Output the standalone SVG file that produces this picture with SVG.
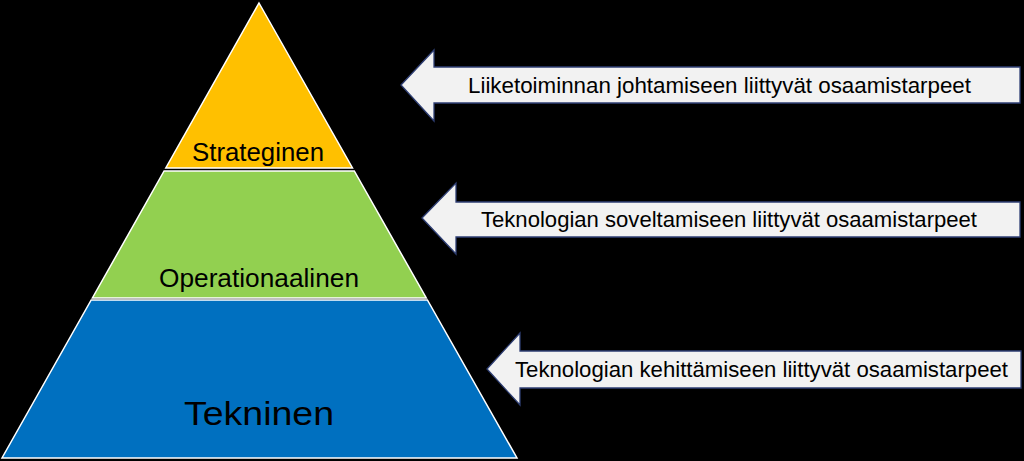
<svg xmlns="http://www.w3.org/2000/svg" width="1024" height="461" viewBox="0 0 1024 461">
<style>
.layer{stroke:#FFFFFF;stroke-width:1.5;stroke-linejoin:miter}
.lbl{font-family:"Liberation Sans",Arial,sans-serif;fill:#000000;text-anchor:start}
.arrow{fill:#F2F2F2;stroke:#2F3F74;stroke-width:1.3;stroke-linejoin:miter}
.atext{font-family:"Liberation Sans",Arial,sans-serif;font-size:22px;fill:#000000}
</style>
<rect x="0" y="0" width="1024" height="461" fill="#000000"/>
<g id="strateginen">
<polygon class="layer" fill="#FFC000" points="259,3 352.5,168 165.8,168"/>
<text class="lbl" x="192" y="161" font-size="26" textLength="132" lengthAdjust="spacingAndGlyphs">Strateginen</text>
</g>
<g id="operationaalinen">
<polygon class="layer" fill="#92D050" points="164.1,171 354.3,171 426.3,298 92.4,298"/>
<text class="lbl" x="159" y="287" font-size="26" textLength="200" lengthAdjust="spacingAndGlyphs">Operationaalinen</text>
</g>
<g id="tekninen">
<polygon class="layer" fill="#0070C0" points="91.2,300 427.4,300 517,458 2,458"/>
<text class="lbl" x="184" y="425" font-size="34" textLength="150" lengthAdjust="spacingAndGlyphs">Tekninen</text>
</g>
<g id="connectors">
<g id="arrow-liiketoiminta">
<polygon class="arrow" points="401,85 434,50 434,67 1020,67 1020,103 434,103 434,121"/>
<text class="atext" x="468" y="93" textLength="503" lengthAdjust="spacingAndGlyphs">Liiketoiminnan johtamiseen liittyvät osaamistarpeet</text>
</g>
<g id="arrow-soveltaminen">
<polygon class="arrow" points="422,218 456,183 456,202 1020,202 1020,237 456,237 456,254"/>
<text class="atext" x="481" y="227" textLength="496" lengthAdjust="spacingAndGlyphs">Teknologian soveltamiseen liittyvät osaamistarpeet</text>
</g>
<g id="arrow-kehittaminen">
<polygon class="arrow" points="487,369 520,333 520,351 1021,351 1021,388 520,388 520,405"/>
<text class="atext" x="515" y="377" textLength="493" lengthAdjust="spacingAndGlyphs">Teknologian kehittämiseen liittyvät osaamistarpeet</text>
</g>
</g>
</svg>
